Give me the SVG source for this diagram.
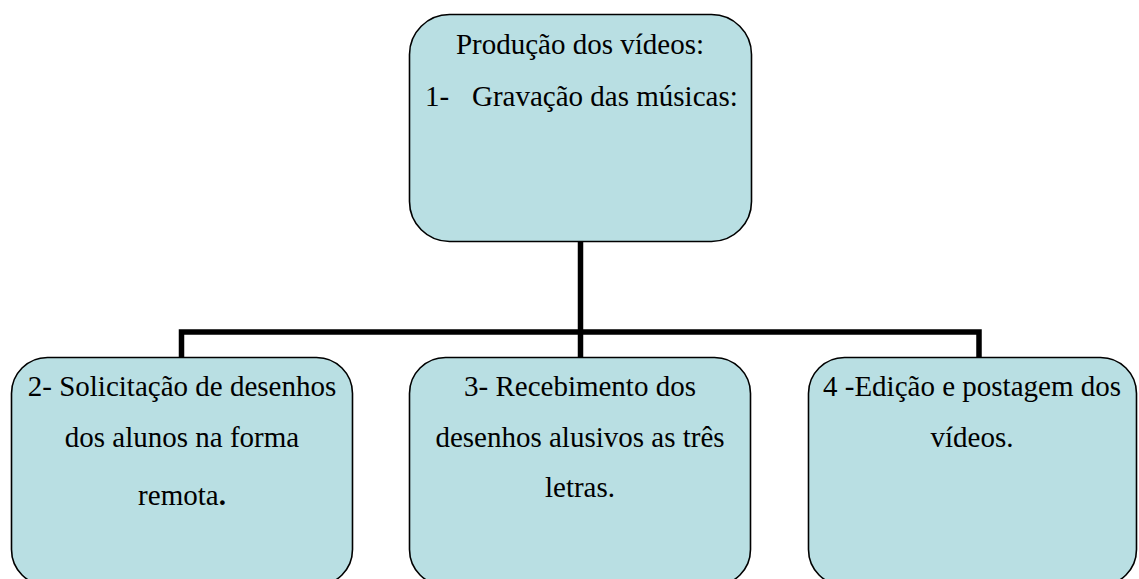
<svg xmlns="http://www.w3.org/2000/svg" width="1139" height="579" viewBox="0 0 1139 579">
<style>
.box{fill:#b9dfe3;stroke:#000;stroke-width:1.6}
.c{text-anchor:middle}
.conn{fill:none;stroke:#000;stroke-width:5.5;stroke-linejoin:miter}
</style>
<rect width="1139" height="579" fill="#fff"/>
<g id="connectors">
<path class="conn" d="M580.5 242 V332"/>
<path class="conn" d="M181.5 357 V332 H979 V357"/>
<path class="conn" d="M580.5 332 V357"/>
</g>
<g font-family="Liberation Serif, Times New Roman, DejaVu Serif, serif" font-size="29" fill="#000" style="font-family:'Liberation Serif','Times New Roman','DejaVu Serif',serif">
<g id="node-top">
<rect class="box" x="409.5" y="14.5" width="342" height="227" rx="40" ry="40"/>
<text class="c" x="580" y="54">Produção dos vídeos:</text>
<text x="425" y="106">1-</text>
<text x="472" y="106">Gravação das músicas:</text>
</g>
<g id="node-2">
<rect class="box" x="11.5" y="357.5" width="341" height="228" rx="36" ry="36"/>
<text class="c" x="182" y="396">2- Solicitação de desenhos</text>
<text class="c" x="182" y="447">dos alunos na forma</text>
<text class="c" x="182" y="505">remota<tspan font-weight="bold">.</tspan></text>
</g>
<g id="node-3">
<rect class="box" x="409.5" y="357.5" width="341" height="228" rx="36" ry="36"/>
<text class="c" x="580" y="396">3- Recebimento dos</text>
<text class="c" x="580" y="447">desenhos alusivos as três</text>
<text class="c" x="580" y="497">letras.</text>
</g>
<g id="node-4">
<rect class="box" x="808.5" y="357.5" width="328" height="228" rx="36" ry="36"/>
<text class="c" x="972" y="396">4 -Edição e postagem dos</text>
<text class="c" x="972" y="447">vídeos.</text>
</g>
</g>
</svg>
